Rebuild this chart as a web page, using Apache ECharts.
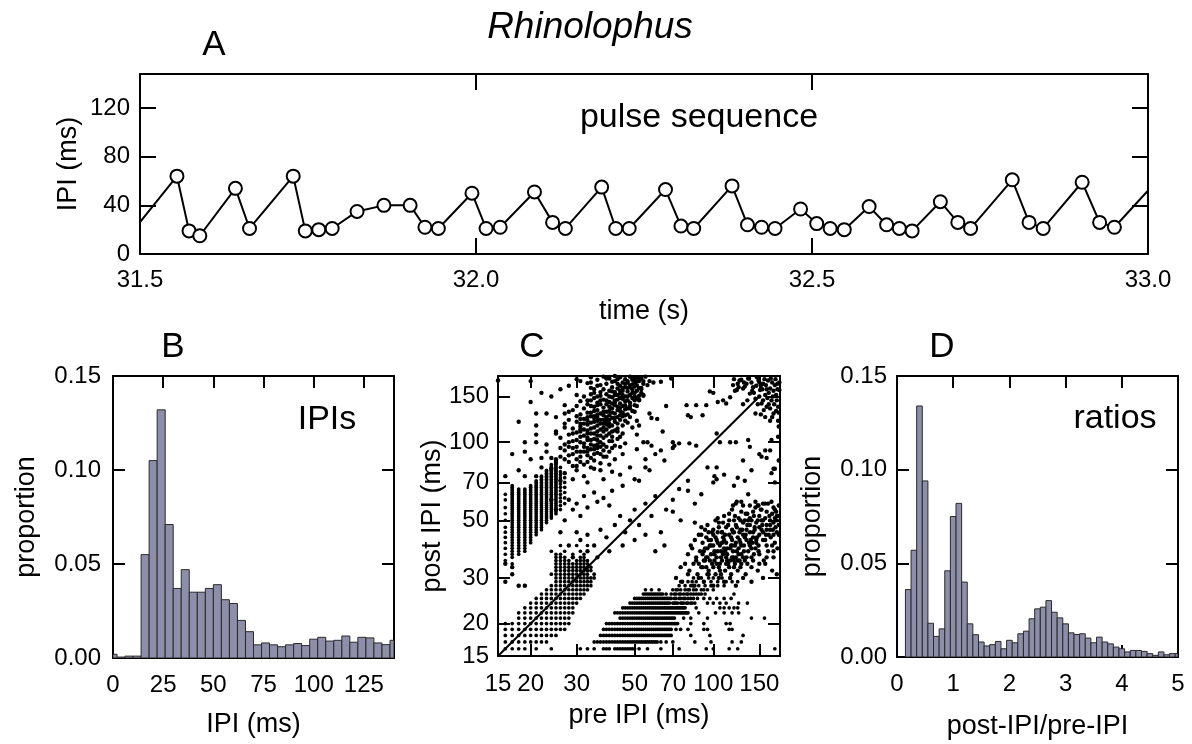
<!DOCTYPE html>
<html><head><meta charset="utf-8">
<script src="https://cdn.jsdelivr.net/npm/echarts@6/dist/echarts.min.js"></script>
<style>html,body{margin:0;padding:0;background:#fff}#c{width:1192px;height:744px}</style>
</head><body><div id="c"></div>
<script>
// ---------- Panel A: pulse sequence ----------
const aTime = [31.491, 31.555, 31.573, 31.589, 31.642, 31.663, 31.728, 31.746, 31.766, 31.786, 31.823, 31.863, 31.902, 31.924, 31.944, 31.994, 32.015, 32.036, 32.087, 32.114, 32.133, 32.187, 32.208, 32.228, 32.282, 32.305, 32.324, 32.381, 32.404, 32.425, 32.445, 32.483, 32.507, 32.527, 32.548, 32.585, 32.611, 32.630, 32.649, 32.691, 32.717, 32.736, 32.798, 32.823, 32.844, 32.902, 32.928, 32.950, 33.013];
const aIPI = [20, 64, 19, 15, 54, 21, 64, 19, 20, 21, 35, 40, 40, 22, 21, 50, 21, 22, 51, 26, 21, 55, 21, 21, 53, 23, 21, 56, 24, 22, 21, 37, 25, 21, 20, 39, 24, 21, 19, 43, 26, 21, 61, 26, 21, 59, 26, 22, 60];

// ---------- Panel B: IPI histogram (4 ms bins, centres) ----------
const bBins = [0,4,8,12,16,20,24,28,32,36,40,44,48,52,56,60,64,68,72,76,80,84,88,92,96,100,104,108,112,116,120,124,128,132,136,140];
const bVals = [0.002,0.0005,0.001,0.001,0.055,0.105,0.132,0.071,0.037,0.047,0.035,0.035,0.037,0.039,0.031,0.029,0.020,0.014,0.007,0.008,0.007,0.006,0.007,0.0077,0.0066,0.010,0.011,0.009,0.0094,0.0117,0.0084,0.011,0.0107,0.008,0.0071,0.0094];

// ---------- Panel D: ratio histogram (0.1 bins, centres) ----------
const dBins = [0.2,0.3,0.4,0.5,0.6,0.7,0.8,0.9,1.0,1.1,1.2,1.3,1.4,1.5,1.6,1.7,1.8,1.9,2.0,2.1,2.2,2.3,2.4,2.5,2.6,2.7,2.8,2.9,3.0,3.1,3.2,3.3,3.4,3.5,3.6,3.7,3.8,3.9,4.0,4.1,4.2,4.3,4.4,4.5,4.6,4.7,4.8,4.9,5.0];
const dVals = [0.036,0.057,0.134,0.094,0.018,0.011,0.015,0.046,0.075,0.082,0.040,0.0177,0.0119,0.008,0.0059,0.0066,0.0083,0.0044,0.0089,0.0076,0.0124,0.0138,0.0204,0.0257,0.0266,0.0301,0.0239,0.0209,0.0177,0.0129,0.012,0.0124,0.0101,0.0076,0.0106,0.008,0.007,0.0053,0.0044,0.0027,0.0035,0.0035,0.003,0.0018,0.0009,0.0027,0.0012,0.0018,0.0018];

// ---------- Panel C: return map (pre IPI, post IPI) ----------
const cTicks = [15,20,30,50,70,100,150];
// quantised rows: [post, [pre values]]
const cRows = [
 [16,[16,17,18,19,21,24,31,33,35,38,39,40,42,43,44,45,46,47,48,49,50,52,56,63,74,94,100,115,124,172]],
 [17,[16,17,18,19,20,21,22,23,35,36,37,38,39,40,41,42,43,44,45,46,47,48,49,50,51,52,53,54,55,56,57,58,59,60,61,63,66,70,85,98,118,128]],
 [18,[16,17,18,19,20,21,22,23,24,25,37,38,39,40,41,42,43,44,45,46,47,48,49,50,51,52,53,54,55,56,57,58,59,60,61,62,63,64,65,66,67,68,69,82,97,130]],
 [19,[16,17,18,19,20,21,22,23,24,25,26,27,38,39,40,41,42,43,44,45,46,47,48,49,50,51,52,53,54,55,56,57,58,59,60,61,62,63,64,65,66,67,68,69,72,75,80,92,95,115,118]],
 [20,[16,17,18,19,20,21,22,23,24,25,26,27,28,39,40,41,42,43,44,45,46,47,48,49,50,51,52,53,54,55,56,57,58,59,60,61,62,63,64,65,66,67,68,69,70,71,72,73,82,92,112,116]],
 [21,[18,19,20,21,22,23,24,25,26,27,28,44,45,46,47,48,49,50,51,52,53,54,55,56,57,58,59,60,61,62,63,64,65,66,67,68,69,70,71,77,82,95,140,157]],
 [22,[18,19,20,21,22,23,24,25,26,27,28,29,42,43,44,45,46,47,48,49,50,51,52,53,54,55,56,57,58,59,60,61,62,63,64,65,66,67,68,69,70,71,72,73,74,75,76,77,78,79,80,88,102,110,118,125]],
 [23,[19,20,21,22,23,24,25,26,27,28,29,45,46,47,48,49,50,51,52,53,54,55,56,57,58,59,60,61,62,63,64,65,66,67,68,69,70,71,72,73,74,75,76,77,78,86,106,110,115,120,124]],
 [24,[20,21,22,23,24,25,26,27,28,29,30,48,49,50,51,52,53,54,55,56,57,58,59,60,61,62,63,64,65,66,67,68,70,71,72,73,75,76,77,79,80,82,83,85,95,100,106,112,125,135]],
 [25,[21,22,23,24,25,26,27,28,29,30,31,50,51,52,53,54,55,56,57,58,59,60,61,62,63,64,65,66,67,68,69,71,72,74,75,77,78,80,82,84,87,92,97,103,110,117]],
 [26,[22,23,24,25,26,27,28,29,30,31,32,54,55,56,57,58,59,60,61,62,63,64,66,69,71,72,74,75,77,79,80,82,84,86,88,90,93,120]],
 [27,[23,24,25,26,27,28,29,30,31,32,33,55,58,62,70,72,73,75,78,80,81,84,86,90,92,95,100]],
 [28,[18,19,24,25,26,27,28,29,30,31,32,33,34,74,78,82,85,88,93,98,104,110]],
 [29,[25,26,27,28,29,30,31,32,33,34,75,80,83,86,92,98,104,112,118,124]],
 [30,[25,26,27,28,29,30,31,32,33,34,35,84,90,96,100,108,116]],
 [31,[24,25,26,27,28,29,30,31,32,33,35]],
 [32,[25,26,27,28,29,30,31,32,33,34]],
 [33,[25,26,27,28,29,30,31,32,33,34]],
 [34,[25,26,27,28,29,30,31,32,33]],
 [35,[25,26,27,28,30,31,32,33]],
 [36,[25,26,27,29,31,32]],
 [37,[25,26,29,32]],
 [38,[24,27,31]],
 [40,[26,30,33]]
];
// quantised columns: [pre, [post values]]
const cCols = [
 [16,[35,37,39,41,43,45,47,50,53,56,60,63]],
 [17,[34,36,37,38,39,40,41,42,43,44,45,46,47,48,49,50,51,52,53,54,55,56,57,58,59,60,61,62,63,64,65,66,67,68]],
 [18,[37,38,39,40,41,42,43,44,45,46,47,48,49,50,51,52,53,54,55,56,57,58,59,60,61,62,63,64,65,66]],
 [19,[38,39,40,41,42,43,44,45,46,47,48,49,50,51,52,53,54,55,56,57,58,59,60,61,62,63,64,65,66]],
 [20,[41,42,43,44,45,46,47,48,49,50,51,52,53,54,55,56,57,58,59,60,61,62,63,64,65,66,67,68]],
 [21,[44,45,46,47,48,49,50,51,52,53,54,55,56,57,58,59,60,61,62,63,64,65,66,67,68,69,70,71]],
 [22,[46,47,48,49,50,51,52,53,54,55,56,57,58,59,60,61,62,63,64,65,66,67,68,69,70,71,72,73,74]],
 [23,[49,50,51,52,53,54,55,56,57,58,59,60,61,62,63,64,65,66,67,68,69,70,71,72,73,74,75,76,77,78]],
 [24,[51,52,53,54,55,56,57,58,59,60,61,62,63,64,65,66,67,68,69,70,71,72,73,74,75,76,77,78,79,80,81,82]],
 [25,[53,54,55,56,57,58,59,60,61,62,63,64,65,66,67,68,69,70,71,72,73,74,75,76,77,78,79,80,81,82,83,84]],
 [26,[55,57,59,61,63,65,67,69,71,73,75,77,80]],
 [27,[58,61,64,67,70,73,76]]
];
// short-pre / long-post cloud
const cCloudUL = [
 [40,176],[42,172],[44,178],[45,170],[46,175],[47,172],[48,179],[49,174],[50,170],[51,177],[52,172],[53,176],[43,168],[55,179],[38,179],[36,174],
 [36,165],[38,160],[39,168],[40,158],[41,163],[42,156],[43,161],[44,165],[45,158],[46,163],[47,157],[48,166],[49,160],[50,164],[51,158],[52,162],[54,168],[37,156],[34,162],[33,169],[45,152],
 [32,150],[33,145],[34,153],[35,148],[36,142],[37,151],[38,146],[39,153],[40,143],[41,149],[42,145],[43,152],[44,141],[45,147],[46,144],[47,150],[48,142],[49,148],[50,145],[52,151],[35,155],[30,152],[31,144],[40,150],[44,154],
 [29,133],[30,138],[31,128],[32,135],[33,130],[34,138],[35,126],[36,133],[37,129],[38,136],[39,131],[40,127],[41,135],[42,129],[43,137],[44,132],[45,126],[46,134],[47,128],[48,138],[50,131],[36,139],[33,125],[39,125],[42,139],[30,126],[28,131],
 [27,118],[28,122],[29,113],[30,120],[31,115],[32,123],[33,111],[34,119],[35,114],[36,121],[37,112],[38,118],[39,124],[40,115],[41,110],[42,120],[43,113],[44,122],[45,116],[47,119],[49,114],[31,110],[35,124],[38,110],[33,117],[40,122],[36,116],
 [26,104],[27,98],[28,107],[29,101],[30,96],[31,105],[32,99],[33,108],[34,102],[35,97],[36,106],[37,100],[38,104],[39,96],[40,108],[41,101],[42,97],[44,105],[46,99],[30,109],[33,95],[36,110],[35,103],[28,96],[38,98],[43,110],[25,108],
 [26,88],[27,93],[28,84],[29,90],[30,86],[31,92],[32,82],[33,89],[34,94],[35,85],[36,91],[37,83],[38,88],[40,92],[42,86],[45,90],[25,84],[29,81],[33,84],[36,95],
 [27,76],[30,78],[32,74],[35,79],[38,72],[41,77],[44,75],[29,72],[33,70],[48,80],[24,79],[26,71],
 [41,171],[43,175],[46,168],[48,163],[50,155],[51,166],[53,160],[44,148],[46,139],[48,135],[49,155],[47,145],[42,152],[45,162],[52,145],[54,152],[39,140],[37,145],[41,141],[43,133],[45,138],[50,139],[47,170],[49,178],[42,180],
 [32,112],[34,108],[34,126],[36,128],[37,118],[38,122],[39,112],[35,132],[33,102],[31,100],[37,106],[39,117],[40,132],[41,124],[34,113],[36,98],[38,93],[32,92],[35,90],[31,118],
 [34,170],[35,160],[37,166],[39,176],[41,157],[43,146],[44,158],[46,150],[47,162],[48,152],[49,167],[50,150],[51,172],[53,155],[54,172],
 [33,140],[34,145],[35,137],[36,150],[37,140],[38,131],[39,145],[40,137],[41,130],[42,142],[43,125],[44,136],[45,130],[46,127],[47,135],[49,132],[51,148],
 [31,123],[32,118],[33,121],[34,130],[35,120],[36,125],[37,122],[38,127],[39,120],[40,118],[41,116],[42,124],[43,118],[44,127],[46,121],[48,125],
 [29,108],[30,102],[31,112],[32,106],[33,104],[34,98],[35,108],[36,102],[37,96],[38,114],[39,106],[40,101],[41,105],[42,111],[43,103],[45,108],
 [28,100],[29,95],[30,92],[31,88],[32,96],[33,92],[34,87],[35,94],[37,90],[39,88],[41,95],[44,96],[27,86],[28,89],[30,81],[31,84],[34,80],[37,78],[40,82]
];
// long-pre / short-post cloud
const cCloudLR = [
 [110,52],[118,55],[125,51],[130,57],[135,53],[140,50],[145,56],[150,52],[155,58],[160,54],[165,50],[170,56],[175,52],[178,57],[122,58],[142,54],[158,51],[168,53],[148,57],[132,50],[172,51],[128,54],[138,57],[152,55],[162,58],
 [95,48],[100,46],[105,49],[108,45],[112,47],[115,50],[118,46],[122,48],[126,45],[130,49],[134,46],[138,48],[142,45],[146,49],[150,47],[155,45],[160,48],[165,46],[170,49],[175,45],[178,48],[102,50],[120,50],[136,50],[153,50],[90,47],[85,49],
 [85,42],[88,44],[91,41],[94,43],[97,40],[100,44],[103,42],[106,40],[109,43],[112,41],[115,44],[118,42],[121,40],[124,43],[127,41],[130,44],[134,42],[138,40],[142,43],[146,41],[150,44],[155,42],[160,40],[166,43],[172,41],[178,44],[96,45],[108,45],[119,45],[131,40],[82,40],
 [80,37],[83,39],[86,36],[89,38],[92,35],[95,39],[98,37],[101,35],[104,38],[107,36],[110,39],[113,37],[116,35],[119,38],[122,36],[125,39],[128,37],[132,35],[136,38],[140,36],[145,39],[150,37],[156,35],[162,38],[170,36],[176,39],[91,37],[103,36],[111,38],[118,40],[126,35],[100,40],[94,36],
 [75,33],[78,34],[81,32],[84,34],[87,31],[90,33],[93,35],[96,32],[99,34],[102,31],[105,33],[108,35],[111,32],[114,34],[117,31],[120,33],[124,32],[128,34],[133,31],[140,33],[148,32],[158,34],[168,32],[95,31],[86,35],[107,31],
 [72,30],[76,29],[80,31],[84,28],[88,30],[92,29],[96,31],[100,28],[105,30],[110,29],[116,30],[122,28],[130,30],[140,29],[155,30],[175,31],
 [98,42],[104,45],[113,39],[117,43],[123,38],[127,46],[133,44],[139,42],[144,47],[149,40],[154,48],[159,44],[164,52],[169,46],[174,54],[106,34],[112,36],[120,35],[101,38],[93,39],
 [90,44],[93,46],[96,42],[99,45],[102,43],[105,47],[108,41],[111,44],[114,48],[117,40],[120,45],[123,47],[126,42],[129,46],[132,43],[135,48],[138,45],[141,41],[144,46],[147,43],
 [92,38],[95,36],[98,40],[101,37],[104,41],[107,38],[110,42],[113,35],[116,39],[119,36],[122,41],[125,37],[128,40],[131,38],[134,36],[137,41],[140,39],[143,37],[146,42],[149,38],
 [88,34],[91,33],[94,33],[97,35],[100,33],[103,34],[106,32],[109,37],[112,34],[115,33],[118,36],[121,34],[124,35],[127,33],[130,36],[135,34],[142,35],[150,34],[160,36],[170,38],
 [155,50],[160,46],[165,48],[170,44],[175,50],[158,42],[163,44],[168,40],[173,47],[178,52],[153,46],[148,50],[143,52],[138,51],[133,53],[127,50],[121,52],[115,53],[109,49],[104,51]
];
// long-pre / long-post corner
const cCloudUR = [
 [119,166],[123,159],[126,173],[130,161],[134,168],[138,154],[142,163],[145,147],[149,173],[151,159],[153,141],[155,168],[158,152],[160,137],[162,173],[165,161],[167,145],[170,129],[172,166],[174,152],[177,137],[179,159],[178,115],[177,121],[165,121],[158,125],[145,129],
 [140,170],[147,178],[152,165],[157,175],[163,155],[168,170],[173,175],[176,168],[150,150],[155,145],[148,140],[160,160],[170,158],[175,145],[178,130],[165,135],[143,155],[135,145],[130,140],
 [120,175],[125,163],[131,170],[137,176],[141,158],[146,165],[150,170],[154,160],[159,166],[161,148],[166,176],[169,150],[171,140],[176,160],[179,170],[174,132],[163,140],[156,133],[152,128],[168,125]
];
// sparse points between the clusters
const cScatter = [
 [15,173],[20,172],[20,143],[21,129],[23,129],[27,139],[27,129],[21,116],[21,107],[25,110],[27,114],[19,100],[19,92],[21,100],[23,98],[23,92],[22,87],[24,87],[20,86],[25,86],[18,78],[19,74],[21,74],[16,74],[24,150],[26,160],[22,155],[28,165],[30,175],[25,125],[18,120],[17,90],[22,80],[26,95],[31,172],[34,178],
 [28,60],[29,55],[30,58],[31,52],[32,62],[33,56],[35,64],[36,59],[38,61],[40,57],[41,65],[30,45],[31,42],[33,44],[35,40],[37,46],[39,43],[42,48],[44,52],[46,45],[48,50],[50,55],[52,48],[55,58],[58,52],[60,62],[63,45],[66,55],[70,60],[75,50],[80,65],[85,58],[45,68],[50,72],[55,80],[60,90],[65,85],[70,95],[28,40],[26,45],[27,50],[25,55],[24,60],[29,36],[33,38],[36,36],[40,38],[45,40],[50,42],[55,44],[60,38],[65,40],[16,34],[17,31],[16,29],[18,28],[19,28],[17,33],
 [52,176],[53,162],[54,151],[52,146],[51,138],[56,166],[57,172],[59,170],[57,129],[58,124],[51,121],[52,116],[51,107],[54,100],[51,94],[63,171],[69,176],[66,138],[79,139],[86,139],[80,127],[82,125],[91,127],[94,139],[97,157],[100,155],[104,143],[109,145],[112,141],[116,149],[121,158],[124,168],[128,174],[132,164],[136,176],
 [61,123],[64,110],[58,97],[56,100],[70,100],[71,97],[74,99],[81,99],[86,97],[103,108],[106,100],[116,100],[122,100],[136,102],[138,96],[153,88],[167,102],[165,93],[170,79],[177,105],[63,93],[55,86],[57,78],[52,71],[74,66],[80,71],[90,63],[103,80],[101,74],[103,72],[124,73],[132,71],[158,93],[160,87],[167,76],[172,79],
 [70,54],[123,59],[119,57],[128,59],[136,63],[145,59],[149,57],[153,55],[158,58],[167,59],[172,55],[172,70],[178,85],[150,90],[140,78],[130,85],[120,68],[110,75],[100,70],[95,80]
];

// ---------- build ----------
const FONT = '"Liberation Sans", Arial, Helvetica, sans-serif';
const LINE = {color:'#000', width:2};
const BAR_FILL = '#8d8ea9';

function axis(o) {
  const a = {
    type: o.type || 'value', gridIndex: o.grid, position: o.pos,
    min: o.min, max: o.max,
    axisLine: {show:true, onZero:false, lineStyle:LINE},
    axisTick: {show:true, inside:true, length:o.tick || 12, lineStyle:{color:'#000', width:2}},
    axisLabel: {show: !!o.label, color:'#000', fontFamily:FONT, fontSize:24, margin:o.margin || 12, formatter:o.label},
    splitLine: {show:false}, minorTick:{show:false}, minorSplitLine:{show:false},
    nameMoveOverlap: false
  };
  if (o.interval !== undefined) a.interval = o.interval;
  if (o.custom) { a.axisTick.customValues = o.custom; a.axisLabel.customValues = o.custom; }
  if (o.type === 'log') a.logBase = 10;
  if (o.name) {
    a.name = o.name; a.nameLocation = 'middle'; a.nameGap = o.nameGap;
    a.nameTextStyle = {color:'#000', fontFamily:FONT, fontSize:27};
  }
  return a;
}

const fmtA_y = v => (Math.round(v) % 40 === 0 ? String(Math.round(v)) : '');
const fmtB_x = v => (Math.round(v) % 25 === 0 ? String(Math.round(v)) : '');
const fmtP = v => v.toFixed(2);
const fmtD_x = v => String(Math.round(v));
const fmtLog = v => String(Math.round(v));

const xAxes = [
  axis({grid:0, pos:'bottom', min:31.5, max:33.0, interval:0.5, tick:16, margin:14, label:v=>v.toFixed(1), name:'time (s)', nameGap:44}),
  axis({grid:0, pos:'top', min:31.5, max:33.0, interval:0.5, tick:16}),
  axis({grid:1, pos:'bottom', min:0, max:140, interval:25, margin:15, label:fmtB_x, name:'IPI (ms)', nameGap:53}),
  axis({grid:1, pos:'top', min:0, max:140, interval:25}),
  axis({grid:2, type:'log', pos:'bottom', min:15, max:180, custom:cTicks, margin:16, label:fmtLog, name:'pre IPI (ms)', nameGap:46}),
  axis({grid:2, type:'log', pos:'top', min:15, max:180, custom:cTicks}),
  axis({grid:3, pos:'bottom', min:0, max:5, interval:1, margin:15, label:fmtD_x, name:'post-IPI/pre-IPI', nameGap:56}),
  axis({grid:3, pos:'top', min:0, max:5, interval:1})
];
const yAxes = [
  axis({grid:0, pos:'left', min:0, max:148, interval:40, tick:16, margin:10, label:fmtA_y, name:'IPI (ms)', nameGap:58}),
  axis({grid:0, pos:'right', min:0, max:148, interval:40, tick:16}),
  axis({grid:1, pos:'left', min:0, max:0.15, interval:0.05, margin:12, label:fmtP, name:'proportion', nameGap:73}),
  axis({grid:1, pos:'right', min:0, max:0.15, interval:0.05}),
  axis({grid:2, type:'log', pos:'left', min:15, max:180, custom:cTicks, margin:9, label:fmtLog, name:'post IPI (ms)', nameGap:52}),
  axis({grid:2, type:'log', pos:'right', min:15, max:180, custom:cTicks}),
  axis({grid:3, pos:'left', min:0, max:0.15, interval:0.05, margin:10, label:fmtP, name:'proportion', nameGap:71}),
  axis({grid:3, pos:'right', min:0, max:0.15, interval:0.05})
];

function histRender(w) {
  return function (params, api) {
    const c = api.value(0), v = api.value(1);
    const p0 = api.coord([c - w / 2, v]);
    const p1 = api.coord([c + w / 2, 0]);
    const cs = params.coordSys;
    const r = echarts.graphic.clipRectByRect(
      {x:p0[0], y:p0[1], width:p1[0]-p0[0], height:p1[1]-p0[1]},
      {x:cs.x, y:cs.y, width:cs.width, height:cs.height});
    if (!r) return null;
    return {type:'rect', shape:r, style:{fill:BAR_FILL, stroke:'#2a2a2a', lineWidth:1}};
  };
}

// quantised (grid-like) points and free cloud points, as [pre, post] pairs
const cGridPts = [];
cRows.forEach(([post, pres]) => pres.forEach(p => cGridPts.push([p, post])));
cCols.forEach(([pre, posts]) => posts.forEach(q => cGridPts.push([pre, q])));
const cCloudPts = [].concat(cCloudUL, cCloudLR, cCloudUR, cScatter);

function txt(x, y, s, size, italic) {
  return {type:'text', x:x, y:y, z:100, style:{text:s, fill:'#000', fontFamily:FONT, fontSize:size, fontStyle: italic ? 'italic' : 'normal', align:'center', verticalAlign:'middle'}};
}

const option = {
  animation: false,
  backgroundColor: '#fff',
  grid: [
    {left:140, top:74, width:1008, height:180, outerBoundsMode:'none'},
    {left:113, top:376, width:281, height:282, outerBoundsMode:'none'},
    {left:498, top:376, width:282, height:280, outerBoundsMode:'none'},
    {left:897, top:376, width:281, height:281, outerBoundsMode:'none'}
  ],
  xAxis: xAxes,
  yAxis: yAxes,
  series: [
    {type:'line', xAxisIndex:0, yAxisIndex:0, clip:true,
     data: aTime.map((t, i) => [t, aIPI[i]]),
     symbol:'circle', symbolSize:13, showAllSymbol:true,
     lineStyle:{color:'#000', width:2},
     itemStyle:{color:'#fff', borderColor:'#000', borderWidth:2}},
    {type:'custom', xAxisIndex:2, yAxisIndex:2, clip:true,
     data: bBins.map((b, i) => [b, bVals[i]]), renderItem: histRender(4)},
    {type:'scatter', xAxisIndex:4, yAxisIndex:4, clip:true, symbol:'circle', symbolSize:3.7,
     itemStyle:{color:'#000', opacity:1}, data: cGridPts},
    {type:'scatter', xAxisIndex:4, yAxisIndex:4, clip:true, symbol:'circle', symbolSize:4.4,
     itemStyle:{color:'#000', opacity:1}, data: cCloudPts},
    {type:'line', xAxisIndex:4, yAxisIndex:4, symbol:'none', data:[[15,15],[150,150]],
     lineStyle:{color:'#000', width:2}},
    {type:'custom', xAxisIndex:6, yAxisIndex:6, clip:true,
     data: dBins.map((b, i) => [b, dVals[i]]), renderItem: histRender(0.1)}
  ],
  graphic: [
    txt(590, 28, 'Rhinolophus', 37, true),
    txt(214, 45, 'A', 35),
    txt(173, 347, 'B', 35),
    txt(532, 347, 'C', 35),
    txt(942, 347, 'D', 35),
    txt(699, 118, 'pulse sequence', 34),
    txt(327, 420, 'IPIs', 34),
    txt(1115, 419, 'ratios', 34)
  ]
};

const chart = echarts.init(document.getElementById('c'), null, {renderer:'canvas'});
chart.setOption(option);
</script></body></html>
